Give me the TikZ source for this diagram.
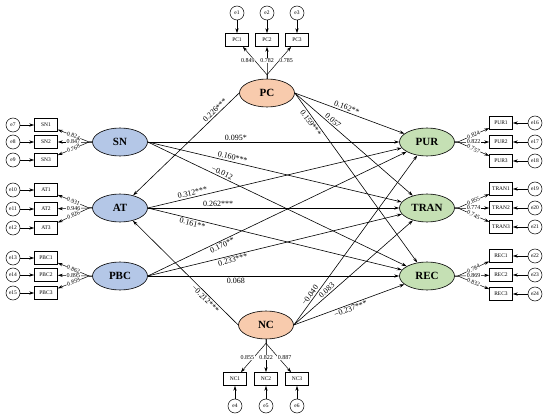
\documentclass[tikz,border=0pt]{standalone}
\usepackage{fontspec}
\setmainfont{Liberation Serif}
\usetikzlibrary{shapes.geometric,arrows.meta}
\definecolor{latblue}{HTML}{B4C7E7}
\definecolor{latorange}{HTML}{F8CBAD}
\definecolor{latgreen}{HTML}{C5E0B4}
\tikzset{
  latent/.style={ellipse, draw, line width=0.6pt, inner sep=0pt, minimum width=55pt, minimum height=28pt, font=\fontsize{11}{12}\selectfont\bfseries},
  item/.style={draw, line width=0.5pt, inner sep=0pt, minimum width=23pt, minimum height=13pt, font=\fontsize{5.5}{6}\selectfont},
  err/.style={circle, draw, line width=0.5pt, inner sep=0pt, minimum size=14pt, font=\fontsize{5.5}{6}\selectfont},
  ind/.style={->, line width=0.5pt},
  reg/.style={->, line width=0.6pt},
  coef/.style={sloped, inner sep=1.5pt, font=\fontsize{8}{9}\selectfont},
  load/.style={fill=white, inner sep=0.6pt, font=\fontsize{6}{7}\selectfont},
}
\begin{document}
\begin{tikzpicture}[x=1pt, y=-1pt, >={Stealth[length=5pt,width=3.2pt]}]
\useasboundingbox (0,0) rectangle (550,420);
\node[latent, fill=latorange] (PC) at (267,93) {PC};
\node[latent, fill=latorange] (NC) at (266,325) {NC};
\node[latent, fill=latblue] (SN) at (120,142) {SN};
\node[latent, fill=latblue] (AT) at (120,208) {AT};
\node[latent, fill=latblue] (PBC) at (120,276) {PBC};
\node[latent, fill=latgreen] (PUR) at (427,142) {PUR};
\node[latent, fill=latgreen] (TRAN) at (427,208) {TRAN};
\node[latent, fill=latgreen] (REC) at (427,276) {REC};

% measurement part
\foreach \i/\x/\l/\s in {1/237/0.849/-7, 2/267/0.782/0, 3/297/0.785/7}{
  \node[item] (PC\i) at (\x,40) {PC\i};
  \node[err] (e\i) at (\x,13) {e\i};
  \draw[ind] (e\i) -- (PC\i);
  \draw[ind] (PC.north) -- ++(0,-4) -- (PC\i) node[load, pos=0.5, xshift=\s pt] {\l};
}
\foreach \i/\x/\e/\l/\s in {1/235/4/0.855/-6, 2/266/5/0.822/0, 3/297/6/0.887/6}{
  \node[item] (NC\i) at (\x,379) {NC\i};
  \node[err] (e\e) at (\x,406) {e\e};
  \draw[ind] (e\e) -- (NC\i);
  \draw[ind] (NC.south) -- ++(0,4) -- (NC\i) node[load, pos=0.5, xshift=\s pt] {\l};
}
\foreach \n/\i/\y/\e/\l in {SN/1/125/7/0.824, SN/2/142/8/0.847, SN/3/160/9/0.768,
    AT/1/190/10/0.931, AT/2/209/11/0.946, AT/3/228/12/0.826,
    PBC/1/258/13/0.862, PBC/2/275/14/0.895, PBC/3/293/15/0.859}{
  \node[item] (\n\i) at (46,\y) {\n\i};
  \node[err] (e\e) at (13,\y) {e\e};
  \draw[ind] (e\e) -- (\n\i);
  \draw[ind] (\n.west) -- ++(-3,0) -- (\n\i) node[load, sloped, pos=0.5] {\l};
}
\foreach \n/\i/\y/\e/\l in {PUR/1/123/16/0.824, PUR/2/142/17/0.822, PUR/3/161/18/0.757,
    TRAN/1/189/19/0.855, TRAN/2/208/20/0.774, TRAN/3/227/21/0.745,
    REC/1/256/22/0.784, REC/2/275/23/0.869, REC/3/294/24/0.832}{
  \node[item] (\n\i) at (501,\y) {\n\i};
  \node[err] (e\e) at (535,\y) {e\e};
  \draw[ind] (e\e) -- (\n\i);
  \draw[ind] (\n.east) -- ++(3,0) -- (\n\i) node[load, sloped, pos=0.5] {\l};
}

% structural part
\draw[reg] (PC.west) -- (AT) node[coef, pos=0.2, above] {0.226***};
\draw[reg] (PC.east) -- (PUR) node[coef, pos=0.46, above] {0.162**};
\draw[reg] (PC.east) -- (TRAN) node[coef, pos=0.3, above] {0.057};
\draw[reg] (PC.east) -- (REC) node[coef, pos=0.16, below] {0.159***};
\draw[reg] (SN.east) -- (PUR) node[coef, pos=0.35, above] {0.095*};
\draw[reg] (SN.east) -- (TRAN) node[coef, pos=0.33, above] {0.160***};
\draw[reg] (SN.east) -- (REC) node[coef, pos=0.28, above] {−0.012};
\draw[reg] (AT.east) -- (PUR) node[coef, pos=0.18, above] {0.312***};
\draw[reg] (AT.east) -- (TRAN) node[coef, pos=0.28, above] {0.262***};
\draw[reg] (AT.east) -- (REC) node[coef, pos=0.18, below] {0.161**};
\draw[reg] (PBC.east) -- (PUR) node[coef, pos=0.28, below] {0.170**};
\draw[reg] (PBC.east) -- (TRAN) node[coef, pos=0.33, below] {0.233***};
\draw[reg] (PBC.east) -- (REC) node[coef, pos=0.35, below] {0.068};
\draw[reg] (NC.west) -- (AT) node[coef, pos=0.28, below] {−0.212***};
\draw[reg] (NC.east) -- (PUR) node[coef, pos=0.16, above] {−0.040};
\draw[reg] (NC.east) -- (TRAN) node[coef, pos=0.3, above] {0.083};
\draw[reg] (NC.east) -- (REC) node[coef, pos=0.5, below] {−0.237***};
\end{tikzpicture}
\end{document}
